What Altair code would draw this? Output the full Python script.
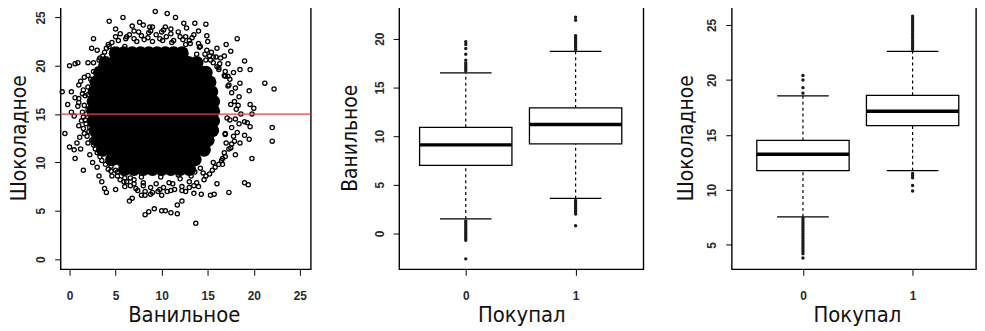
import altair as alt
import pandas as pd

# ---------------- Left panel: scatter Ванильное vs Шоколадное ----------------
# sparse / edge points (open circles)
outer_x = [9.3, 10.6, 11.5, 5.8, 4.3, 7.6, 8.0, 13.6, 14.8, 12.4, 8.8, 10.0, 11.0, 12.0, 13.5, 14.0,
           18.2, 2.6, 4.2, 2.4, 6.0, 15.0, 16.0, 17.0, 16.8, 17.5,
           0.0, 0.6, 0.9, 2.0, 2.6, 1.6, 2.0, 1.0, 1.5, -0.8, 0.2, 0.6, 1.0, -0.2, 0.2, 0.5, 1.5, 2.0,
           1.0, 1.6, -0.5, 0.8, 0.0, 0.5, 1.2, 0.6, 2.2, 1.5, 2.5, 3.0, 3.2, 3.5, 3.8, 4.0,
           21.2, 22.2, 19.5, 18.5, 19.0, 19.6, 17.8, 18.5, 20.0, 19.8, 19.6, 19.0, 19.3, 19.6, 22.0,
           22.0, 19.5, 19.0, 18.5, 19.8, 18.0, 17.5, 19.0, 19.4, 17.3, 16.0, 15.7, 15.3,
           8.2, 8.6, 9.2, 10.0, 10.4, 11.0, 11.7, 13.7, 6.5, 6.8, 7.8, 8.2, 8.8, 10.0, 11.7, 12.2,
           12.6, 13.5, 14.3, 5.0, 6.0, 7.2, 9.6, 11.0, 14.0,
           5.0, 6.5, 7.0, 7.5, 8.5, 9.0, 9.8, 10.5, 11.3, 12.6, 13.0, 14.2, 4.8, 3.6, 13.8, 15.2, 15.6,
           3.0, 2.6, 2.0, 2.3, 1.8, 2.1, 2.4, 2.0, 3.0, 3.5, 4.2, 4.6, 5.5,
           16.2, 16.8, 17.3, 17.6, 17.9, 18.1, 18.0, 17.6, 17.8, 17.0, 16.8, 16.5, 15.8, 15.2, 14.6,
           13.0, 13.5, 6.2, 7.0, 8.0, 8.8, 10.2, 11.2, 12.2,
           3.3, 4.0, 14.8, 15.4, 16.4, 17.2, 16.9, 17.4, 16.6, 3.9, 2.9, 5.2, 6.6, 12.9, 14.5,
           5.5, 6.2, 7.0, 7.8, 8.6, 9.4, 10.2, 11.0, 11.8, 12.6,
           4.3, 3.8, 3.2, 3.4, 2.6, 2.3, 2.0, 1.7, 1.6, 1.4, 1.7, 1.5, 1.9, 2.6, 2.8, 3.3, 3.9, 4.5,
           5.2, 5.9, 6.6,
           7.4, 8.2, 9.0, 9.8, 10.6, 11.4, 12.2, 13.0, 13.8,
           14.8, 15.5, 16.2, 16.9, 17.3, 17.9, 18.2, 18.4, 18.6, 18.3, 18.4, 18.0, 17.4, 16.9, 16.3,
           15.6, 14.9, 14.0, 13.3,
           4.6, 5.3, 6.1, 7.3, 8.1, 9.0, 10.1, 11.1, 12.3, 13.1, 14.1, 14.7, 15.3, 16.0, 16.9,
           3.9, 3.0, 2.4, 2.2, 2.6, 3.1, 3.7, 4.2, 5.0, 6.0, 7.0, 8.0, 9.4, 10.8, 12.0, 13.2, 14.2,
           1.2, 1.0, 1.3, 1.1, 1.4, 1.8, 2.2, 0.9, 17.2, 17.5, 17.1, 16.9, 17.6, 17.2, 16.6, 16.2,
           4.0, 5.0, 6.8, 8.7, 10.4, 12.7, 14.9, 15.9, 3.0, 5.8, 7.8, 9.9, 11.8, 13.6, 15.6, 4.5]
outer_y = [25.6, 25.4, 25.0, 25.0, 24.6, 24.5, 24.2, 24.4, 24.3, 24.4, 23.6, 23.5, 23.8, 23.0, 23.2, 23.6,
           22.8, 22.8, 22.2, 21.8, 22.0, 22.5, 21.8, 22.2, 21.0, 21.5,
           20.0, 20.2, 20.3, 20.3, 20.3, 18.8, 19.0, 18.0, 17.5, 17.3, 17.3, 16.7, 16.6, 16.0, 15.2, 14.8, 14.7, 15.5,
           13.8, 13.0, 13.0, 12.0, 11.6, 11.3, 11.4, 10.4, 10.8, 9.2, 10.0, 9.5, 8.6, 8.0, 7.3, 6.9,
           18.2, 17.6, 17.4, 19.6, 20.5, 19.6, 19.3, 18.2, 15.6, 15.0, 16.0, 14.2, 14.1, 13.7, 13.6,
           12.2, 12.4, 12.8, 12.0, 10.4, 10.8, 11.5, 7.9, 7.7, 6.9, 7.8, 6.7, 6.6,
           4.6, 4.9, 5.2, 5.0, 5.0, 4.8, 4.7, 3.7, 6.0, 6.3, 6.6, 6.6, 6.7, 6.6, 5.6, 6.0,
           7.0, 6.8, 6.7, 7.2, 7.5, 7.3, 7.0, 7.1, 7.5,
           23.0, 23.2, 22.8, 23.5, 22.9, 24.0, 22.8, 23.0, 22.6, 22.2, 22.6, 22.0, 21.6, 21.0, 21.2, 21.0, 20.3,
           19.6, 18.2, 17.0, 16.2, 14.0, 13.2, 12.3, 12.0, 11.0, 10.2, 9.3, 8.6, 8.2,
           19.8, 19.0, 18.0, 17.2, 16.3, 15.5, 14.5, 13.6, 12.7, 12.0, 11.0, 10.2, 9.5, 8.8, 8.2,
           8.0, 7.6, 8.0, 7.8, 7.6, 7.4, 7.4, 7.8, 7.5,
           20.8, 20.0, 20.6, 21.4, 20.8, 20.2, 13.0, 14.4, 9.8, 16.8, 14.2, 9.0, 8.4, 9.2, 8.9,
           23.3, 23.0, 23.6, 23.1, 23.4, 23.2, 23.7, 23.3, 23.5, 23.0,
           22.0, 21.4, 20.6, 20.0, 19.4, 18.6, 17.8, 16.9, 15.9, 15.2, 14.4, 13.5, 12.7, 11.8, 11.4,
           10.6, 9.8, 9.1, 8.6, 8.0, 7.6,
           7.1, 7.0, 6.9, 7.2, 7.0, 7.2, 7.1, 7.4, 7.9,
           8.6, 9.2, 9.8, 10.6, 11.4, 12.2, 13.1, 14.0, 15.0, 15.9, 16.8, 17.7, 18.6, 19.4, 20.2,
           20.9, 21.6, 22.3, 22.9,
           22.4, 22.6, 22.8, 22.5, 22.7, 22.5, 22.6, 22.4, 22.7, 22.3, 21.9, 21.2, 20.6, 19.9, 18.9,
           20.4, 19.3, 17.4, 15.6, 13.9, 12.2, 11.2, 10.1, 9.2, 8.4, 8.2, 7.9, 7.8, 7.9, 8.3, 8.6, 9.4,
           18.4, 16.2, 14.3, 12.6, 17.1, 15.0, 13.6, 15.8, 17.9, 16.0, 14.6, 12.9, 11.9, 18.9, 10.4, 19.6,
           21.8, 23.8, 24.1, 24.0, 24.0, 23.9, 23.1, 20.9, 21.6, 8.9, 8.5, 8.5, 8.7, 9.0, 10.0, 9.6]

# dense, fully black core of the cloud (row y value -> x values)
core_rows_y = [21.3, 20.3, 19.3, 18.3, 17.3, 16.3, 15.3, 14.3, 13.3, 12.3, 11.3, 10.3, 9.3]
core_rows_x = [
    [5.0, 5.9, 6.8, 7.7, 8.6, 9.5, 10.4, 11.3, 12.2],
    [3.9, 4.9, 5.9, 6.9, 7.9, 8.9, 9.9, 10.9, 11.9, 12.9, 13.8],
    [3.3, 4.3, 5.3, 6.3, 7.3, 8.3, 9.3, 10.3, 11.3, 12.3, 13.3, 14.3, 14.8],
    [2.9, 3.9, 4.9, 5.9, 6.9, 7.9, 8.9, 9.9, 10.9, 11.9, 12.9, 13.9, 14.9, 15.2],
    [2.7, 3.7, 4.7, 5.7, 6.7, 7.7, 8.7, 9.7, 10.7, 11.7, 12.7, 13.7, 14.7, 15.4],
    [2.6, 3.6, 4.6, 5.6, 6.6, 7.6, 8.6, 9.6, 10.6, 11.6, 12.6, 13.6, 14.6, 15.6],
    [2.6, 3.6, 4.6, 5.6, 6.6, 7.6, 8.6, 9.6, 10.6, 11.6, 12.6, 13.6, 14.6, 15.6],
    [2.6, 3.6, 4.6, 5.6, 6.6, 7.6, 8.6, 9.6, 10.6, 11.6, 12.6, 13.6, 14.6, 15.6],
    [2.8, 3.8, 4.8, 5.8, 6.8, 7.8, 8.8, 9.8, 10.8, 11.8, 12.8, 13.8, 14.8, 15.5],
    [3.0, 4.0, 5.0, 6.0, 7.0, 8.0, 9.0, 10.0, 11.0, 12.0, 13.0, 14.0, 15.0],
    [3.6, 4.6, 5.6, 6.6, 7.6, 8.6, 9.6, 10.6, 11.6, 12.6, 13.6, 14.6],
    [4.6, 5.6, 6.6, 7.6, 8.6, 9.6, 10.6, 11.6, 12.6, 13.6],
    [6.0, 7.0, 8.0, 9.0, 10.0, 11.0, 12.0, 13.0],
]
hline_y = [15]
scatter_ticks = [0, 5, 10, 15, 20, 25]

# ---------------- Boxplot statistics ----------------
groups = [0, 1]
van_q1 = [7.0, 9.2]
van_med = [9.1, 11.2]
van_q3 = [10.9, 12.9]
van_lo = [1.5, 3.6]
van_hi = [16.5, 18.7]
van_out_0 = [16.7, 16.9, 17.1, 17.3, 17.5, 17.8, 18.4, 19.0, 19.4, 19.7,
             1.3, 1.1, 0.9, 0.7, 0.5, 0.3, 0.1, -0.1, -0.3, -0.5, -0.7, -2.6]
van_out_1 = [18.9, 19.1, 19.3, 19.5, 19.7, 19.9, 20.1, 20.3, 21.9, 22.2,
             3.4, 3.2, 3.0, 2.8, 2.6, 2.4, 2.2, 2.0, 0.8]

choc_q1 = [11.75, 15.85]
choc_med = [13.25, 17.15]
choc_q3 = [14.5, 18.6]
choc_lo = [7.55, 11.75]
choc_hi = [18.55, 22.6]
choc_out_0 = [18.8, 19.3, 20.0, 20.4,
              7.4, 7.2, 7.0, 6.8, 6.6, 6.4, 6.2, 6.0, 5.8, 5.6, 5.4, 5.2, 5.0, 4.8, 4.6, 4.4, 4.2, 3.8]
choc_out_1 = [22.8, 23.0, 23.2, 23.4, 23.6, 23.8, 24.0, 24.2, 24.4, 24.6, 24.8, 25.0, 25.2, 25.4,
              25.6, 25.8, 11.5, 11.3, 11.1, 10.4, 9.9]

van_ticks = [0, 5, 10, 15, 20]
choc_ticks = [5, 10, 15, 20, 25]
group_ticks = [0, 1]

LABEL_FONT = "Liberation Sans, Arial, sans-serif"
TITLE_FONT = "Liberation Sans Narrow, DejaVu Sans Condensed, sans-serif"
H = 265


def x_axis(title, values, tx):
    return alt.Axis(title=title, values=values, format="d", grid=False, domain=False,
                    ticks=True, tickSize=6, tickColor="black", tickWidth=1,
                    labelFont=LABEL_FONT, labelFontSize=12, labelFontWeight="bold",
                    labelColor="#2a2a2a", labelPadding=15, labelFlush=False, labelOverlap=False,
                    titleFont=TITLE_FONT, titleFontSize=22, titleFontWeight="normal",
                    titleColor="#111111", titleX=tx, titleY=46, titleAlign="center",
                    titleBaseline="middle")


def y_axis(title, values, tx):
    return alt.Axis(title=title, values=values, format="d", grid=False, domain=False,
                    ticks=True, tickSize=6, tickColor="black", tickWidth=1,
                    labelFont=LABEL_FONT, labelFontSize=12, labelFontWeight="bold",
                    labelColor="#2a2a2a", labelPadding=10, labelAngle=270,
                    labelAlign="center", labelBaseline="alphabetic",
                    labelFlush=False, labelOverlap=False,
                    titleFont=TITLE_FONT, titleFontSize=21, titleFontWeight="normal",
                    titleColor="#111111", titleAngle=270, titleX=tx, titleY=H / 2,
                    titleAlign="center", titleBaseline="middle")


# ---- panel 1 ----
df_outer = pd.DataFrame({"x": outer_x, "y": outer_y})
core_pairs = [(cx, ry) for ry, row in zip(core_rows_y, core_rows_x) for cx in row]
df_core = pd.DataFrame(core_pairs, columns=["x", "y"])
df_h = pd.DataFrame({"y": hline_y})

sx1 = alt.Scale(domain=[-0.97, 26.19], nice=False, zero=False)
sy1 = alt.Scale(domain=[-1.05, 26.16], nice=False, zero=False)
ax1 = x_axis("Ванильное", scatter_ticks, 124)
ay1 = y_axis("Шоколадное", scatter_ticks, -41)

core_layer = alt.Chart(df_core).mark_circle(size=190, color="black", opacity=1).encode(
    x=alt.X("x:Q", scale=sx1, axis=ax1),
    y=alt.Y("y:Q", scale=sy1, axis=ay1),
)
outer_layer = alt.Chart(df_outer).mark_point(
    shape="circle", filled=False, size=18, strokeWidth=1.3, color="black", opacity=1
).encode(x=alt.X("x:Q", scale=sx1, axis=ax1), y=alt.Y("y:Q", scale=sy1, axis=ay1))
red_line = alt.Chart(df_h).mark_rule(color="#e6403a", strokeWidth=1.3).encode(
    y=alt.Y("y:Q", scale=sy1, axis=ay1))
p1 = alt.layer(core_layer, outer_layer, red_line).properties(width=252, height=H)


def box_panel(title, q1, med, q3, lo, hi, out0, out1, ydom, yticks, xdom, ytx, xtx):
    df = pd.DataFrame({"g": groups, "q1": q1, "med": med, "q3": q3, "lo": lo, "hi": hi})
    dfo = pd.DataFrame({"g": [0] * len(out0) + [1] * len(out1), "v": out0 + out1})
    sx = alt.Scale(domain=xdom, nice=False, zero=False)
    sy = alt.Scale(domain=ydom, nice=False, zero=False)
    ax = x_axis("Покупал", group_ticks, xtx)
    ay = y_axis(title, yticks, ytx)
    X = alt.X("g:Q", scale=sx, axis=ax)

    def Y(f):
        return alt.Y(f, scale=sy, axis=ay)

    base = alt.Chart(df)
    wh_up = base.mark_rule(color="black", strokeWidth=1.2, strokeDash=[3, 3]).encode(
        x=X, y=Y("q3:Q"), y2="hi:Q")
    wh_dn = base.mark_rule(color="black", strokeWidth=1.2, strokeDash=[3, 3]).encode(
        x=X, y=Y("lo:Q"), y2="q1:Q")
    box = base.mark_bar(width=93, fill="white", stroke="black", strokeWidth=1.3).encode(
        x=X, y=Y("q1:Q"), y2="q3:Q")
    median = base.mark_tick(orient="horizontal", size=93, thickness=3.5, color="black",
                            opacity=1).encode(x=X, y=Y("med:Q"))
    cap_hi = base.mark_tick(orient="horizontal", size=52, thickness=1.3, color="black",
                            opacity=1).encode(x=X, y=Y("hi:Q"))
    cap_lo = base.mark_tick(orient="horizontal", size=52, thickness=1.3, color="black",
                            opacity=1).encode(x=X, y=Y("lo:Q"))
    outl = alt.Chart(dfo).mark_circle(size=12, color="#1a1a1a", opacity=1).encode(
        x=X, y=Y("v:Q"))
    return alt.layer(wh_up, wh_dn, box, median, cap_hi, cap_lo, outl).properties(
        width=246, height=H)


p2 = box_panel("Ванильное", van_q1, van_med, van_q3, van_lo, van_hi, van_out_0, van_out_1,
               [-3.67, 23.34], van_ticks, [-0.561, 1.572], -49, 123)
p3 = box_panel("Шоколадное", choc_q1, choc_med, choc_q3, choc_lo, choc_hi, choc_out_0,
               choc_out_1, [2.78, 26.71], choc_ticks, [-0.604, 1.533], -46, 126)

chart = alt.hconcat(p1, p2, p3, spacing=89, bounds="flush").properties(
    padding={"left": 0, "top": -4, "right": 0, "bottom": 0}, background="white"
).configure_view(stroke="black", strokeWidth=1.4)

chart.save("out.html", embed_options={"renderer": "svg", "actions": False})
